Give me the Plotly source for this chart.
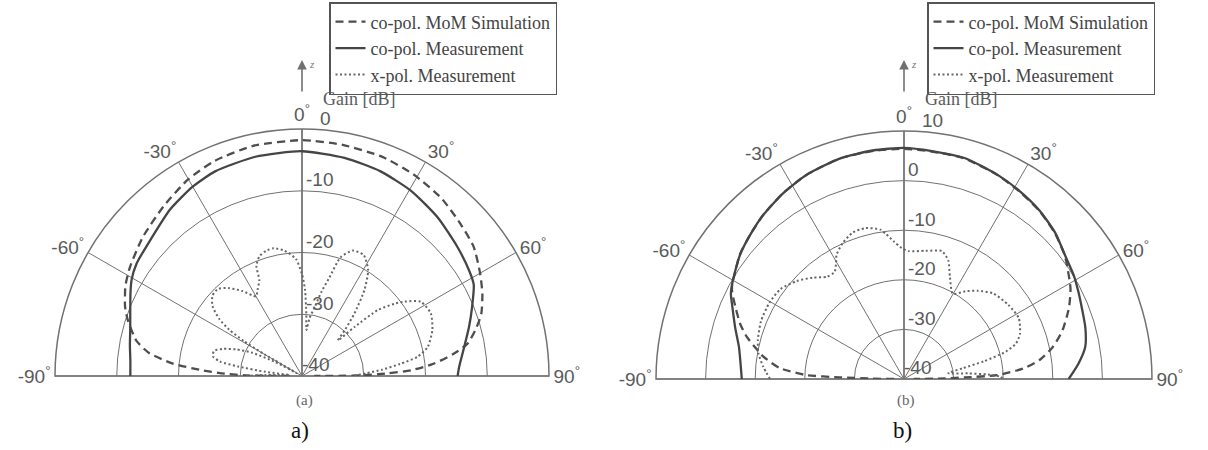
import math
import plotly.graph_objects as go

# ---------------- data : plot (a) ----------------
a_sim_theta = [-90, -89.4, -88.2, -86.6, -84.5, -81.5, -78, -72, -68.5, -63, -60, -57.5, -49, -39, -30, -22, -12, 0,
               10, 20, 29, 38, 46, 53, 60, 65.5, 71, 75, 79, 81.6, 84.6, 87, 88.2, 89.4, 90]
a_sim_gain = [-38, -31, -27.5, -23.5, -19, -15, -12.6, -10.3, -9.2, -7.9, -7.4, -7.0, -5.8, -4.5, -3.2, -2.4, -1.9, -1.8,
              -2.0, -2.2, -2.7, -3.4, -4.4, -5.2, -6.7, -7.9, -9.3, -10.9, -12.7, -15.1, -18.5, -22.3, -26.1, -30.4, -38]

a_meas_theta = [-90, -85, -80, -75, -70, -64, -60.5, -55.7, -48, -38.4, -30, -23, -12, 0,
                11, 21, 30.5, 40.5, 50.4, 57.8, 62, 68, 73.6, 79.8, 86.6, 90]
a_meas_gain = [-12.2, -12.1, -11.7, -11.2, -10.4, -9.1, -8.3, -7.6, -7.0, -5.6, -4.6, -4.0, -3.7, -3.6,
               -4.0, -4.5, -5.2, -6.2, -7.3, -8.0, -8.5, -10.3, -11.8, -13.3, -14.5, -14.8]

a_xpol_theta = [-90, -88.5, -86, -83.5, -81.5, -80, -77.5, -74, -71, -68, -65, -62.5, -61, -60, -59, -57.5, -55.5,
                -52, -48, -44, -40, -35, -30, -27, -24, -22.5, -19.5, -16, -12.5, -8, -3, 0, 2, 4, 5.5, 7.5,
                10.5, 13, 15.5, 18, 22, 27, 32, 36, 40, 43, 45.3, 47, 49, 52, 54, 58, 64, 70.5, 77, 80.5, 83,
                85.5, 87.5, 89, 90]
a_xpol_gain = [-31, -34, -38, -34, -29.5, -26.5, -25.2, -25.2, -26.5, -28.5, -31, -35, -39, -33, -29, -26, -23.8,
               -21.6, -20.5, -20.4, -21.4, -23.2, -25.1, -24.2, -23, -20.7, -19.4, -18.9, -18.8, -19.5, -21, -23.5,
               -26, -30, -32.5, -30.5, -28.6, -26, -23.5, -19.8, -18.1, -18, -19.8, -22.8, -26.8, -29.8, -31.8,
               -28.3, -23.7, -21, -19.5, -17.3, -16.8, -17.6, -19.1, -21, -24, -27, -29.5, -31, -32]

# ---------------- data : plot (b) ----------------
b_sim_theta = [-90, -89.4, -88.5, -87.7, -85, -81, -78, -75, -71.5, -67, -63, -61, -58, -53, -47, -40.5, -33, -25.6,
               -16, -8, 0, 7, 15, 24, 31.6, 39, 46, 52, 55, 61.5, 66.7, 73, 78, 82, 85, 87.6, 88.5, 89.4, 90]
b_sim_gain = [-38, -33.7, -27, -20.3, -14.9, -11.3, -9.3, -7.2, -5.2, -3.1, -1.1, -0.4, 0.2, 1.5, 2.5, 3.6, 4.7, 5.6,
              6.3, 6.4, 6.4, 6.2, 6.1, 5.3, 4.4, 3.5, 2.3, 1.0, 0.1, -1.8, -3.8, -6.6, -9.4, -12.4, -15.9, -21.2,
              -27.8, -33, -38]

b_meas_theta = [-90, -84.6, -79, -73, -67.3, -63.8, -61, -58.3, -52.7, -46.8, -40.5, -33, -25.6, -16.3, -7.8, 0,
                7, 15.3, 24.4, 31.6, 38.8, 46, 52.7, 58.6, 63.5, 68.3, 74.2, 80, 85, 90]
b_meas_gain = [-7.3, -6.9, -6.1, -4.4, -2.5, -1.1, -0.4, 0.2, 1.5, 2.5, 3.6, 4.7, 5.6, 6.3, 6.5, 6.6,
               6.3, 6.2, 5.3, 4.5, 3.6, 2.4, 0.9, 0.1, -0.7, -1.4, -2.0, -2.9, -4.7, -6.8]

b_xpol_theta = [-90, -85, -80, -75, -68, -60.5, -54, -47.6, -42, -37, -33, -30.5, -28.5, -24.5, -19.3, -14.3, -9,
                -7, -4, -1, 2, 9.5, 16.5, 20.5, 24.3, 29.8, 35, 40, 46, 54.5, 62, 68.7, 72.4, 75, 77.5, 79.6,
                82.5, 85, 87, 88.6, 90]
b_xpol_gain = [-13, -11.5, -10.2, -9.5, -8.9, -8.8, -9.2, -10.7, -12.5, -14.2, -14.3, -13, -11.5, -10, -8.7, -8.6,
               -9.5, -10.6, -12.3, -13.6, -14.2, -13.8, -13.1, -14.5, -17.5, -20.2, -18.4, -16.8, -15.1, -14.2,
               -13.8, -14.9, -16.3, -18.8, -23.5, -28, -31, -27, -23, -20.6, -20]

angle_ticks = [-90, -60, -30, 0, 30, 60, 90]
angle_text = [f"{v}<sup>°</sup>" for v in angle_ticks]
a_rticks = [-40, -30, -20, -10, 0]
b_rticks = [-40, -30, -20, -10, 0, 10]

series_names = ["co-pol. MoM Simulation", "co-pol. Measurement", "x-pol. Measurement"]

# ---------------- figure ----------------
W, H = 1208, 450
GRID = "#717171"
TXT = "#5a5a5a"
SANS = "Liberation Sans, Arial, sans-serif"
SERIF = "Liberation Serif, Times New Roman, serif"

styles = [dict(color="#4e4e4e", width=2.3, dash="8px,5px"),
          dict(color="#454545", width=2.3, dash="solid"),
          dict(color="#666666", width=2.0, dash="2px,2.5px")]

# panel geometry (pixels): centre x, baseline y, radius
PANELS = [dict(sub="polar", leg="legend", cx=302, cy=376, R=247, rng=[-40, 0], rticks=a_rticks,
               series=[(a_sim_theta, a_sim_gain), (a_meas_theta, a_meas_gain), (a_xpol_theta, a_xpol_gain)]),
          dict(sub="polar2", leg="legend2", cx=904, cy=379, R=248, rng=[-40, 10], rticks=b_rticks,
               series=[(b_sim_theta, b_sim_gain), (b_meas_theta, b_meas_gain), (b_xpol_theta, b_xpol_gain)])]

fig = go.Figure()
for p in PANELS:
    # gain scale labels drawn on the 0° line, slightly right of it and just above each ring
    lo, hi = p["rng"]
    lab_theta = []
    for v in p["rticks"]:
        rpx = p["R"] * (v - lo) / (hi - lo)
        dx = 18 if v == hi else 4
        lab_theta.append(math.degrees(math.atan2(dx, rpx)) if rpx > 0 else 0)
    fig.add_trace(go.Scatterpolar(
        theta=lab_theta, r=p["rticks"], text=[str(v) for v in p["rticks"]], mode="text",
        textposition="top right", textfont=dict(family=SANS, size=19, color=TXT),
        subplot=p["sub"], showlegend=False, hoverinfo="skip", cliponaxis=False))
    for (th, g), name, st in zip(p["series"], series_names, styles):
        fig.add_trace(go.Scatterpolar(
            theta=th, r=g, mode="lines", name=name, subplot=p["sub"], legend=p["leg"],
            line=dict(color=st["color"], width=st["width"], dash=st["dash"], shape="spline", smoothing=0.6),
            hoverinfo="skip"))


def polar_layout(p):
    cx, cy, R = p["cx"], p["cy"], p["R"]
    return dict(
        domain=dict(x=[(cx - R) / W, (cx + R) / W], y=[(H - cy) / H, (H - cy + R) / H]),
        sector=[0, 180],
        bgcolor="white",
        angularaxis=dict(rotation=90, direction="clockwise", tickmode="array",
                         tickvals=angle_ticks, ticktext=angle_text, showline=True,
                         linecolor=GRID, linewidth=1.5, gridcolor=GRID, gridwidth=1.3,
                         ticks="", tickfont=dict(family=SANS, size=19, color=TXT), layer="below traces"),
        radialaxis=dict(range=p["rng"], tickmode="array", tickvals=p["rticks"], showticklabels=False,
                        angle=90, showline=True, linecolor=GRID, linewidth=1.5,
                        gridcolor=GRID, gridwidth=1.3, ticks="", layer="below traces"),
    )


leg_style = dict(bgcolor="white", bordercolor="#555555", borderwidth=1.5,
                 font=dict(family=SERIF, size=18, color="#444444"), itemwidth=30,
                 tracegroupgap=0, yanchor="top", xanchor="left", y=1 - 2 / H)


def note(x, y, text, font, **kw):
    return dict(x=x / W, y=1 - y / H, xref="paper", yref="paper", text=text, showarrow=False,
                xanchor=kw.pop("xanchor", "center"), yanchor="middle", font=font, **kw)


annotations = []
for cx, lab, lab2 in [(302, "(a)", "a)"), (904, "(b)", "b)")]:
    annotations += [
        note(cx + 19, 99, "Gain [dB]", dict(family=SERIF, size=18, color=TXT), xanchor="left"),
        dict(x=cx / W, y=1 - 60 / H, xref="paper", yref="paper", text="", showarrow=True,
             ax=0, ay=33, arrowhead=2, arrowsize=1.2, arrowwidth=1.6, arrowcolor="#707070"),
        note(cx + 10, 64, "<i>z</i>", dict(family=SERIF, size=11, color="#777777")),
        note(cx + 2, 400, lab, dict(family=SERIF, size=15, color="#666666")),
        note(cx - 2, 430, lab2, dict(family=SERIF, size=23, color="#111111")),
    ]

fig.update_layout(
    width=W, height=H, autosize=False,
    margin=dict(l=0, r=0, t=0, b=0),
    paper_bgcolor="white",
    showlegend=True,
    polar=polar_layout(PANELS[0]),
    polar2=polar_layout(PANELS[1]),
    legend=dict(x=329 / W, **leg_style),
    legend2=dict(x=927 / W, **leg_style),
    annotations=annotations,
)

fig.write_html("out.html", config={"displayModeBar": False},
               post_script="document.body.style.margin='0px';")
